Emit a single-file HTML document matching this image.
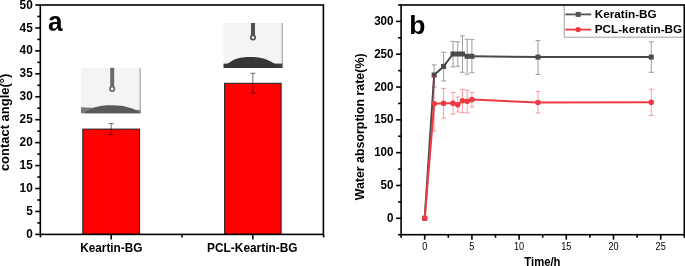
<!DOCTYPE html><html><head><meta charset="utf-8"><style>html,body{margin:0;padding:0;background:#fff;}svg{display:block;will-change:transform;}text{font-family:"Liberation Sans", sans-serif;}</style></head><body>
<svg width="685" height="266" viewBox="0 0 685 266">
<rect width="685" height="266" fill="#fff"/>
<rect x="82.8" y="129.1" width="56.8" height="105.3" fill="#ff0000" stroke="#1c2020" stroke-width="1"/>
<rect x="224.6" y="83.3" width="56.5" height="151.1" fill="#ff0000" stroke="#1c2020" stroke-width="1"/>
<g stroke="#000" stroke-opacity="0.6" stroke-width="0.9" fill="none"><line x1="111.2" y1="123.6" x2="111.2" y2="134.5"/><line x1="108.7" y1="123.6" x2="113.7" y2="123.6"/><line x1="108.7" y1="134.5" x2="113.7" y2="134.5"/></g>
<g stroke="#000" stroke-opacity="0.6" stroke-width="0.9" fill="none"><line x1="252.85" y1="73.3" x2="252.85" y2="93"/><line x1="250.35" y1="73.3" x2="255.35" y2="73.3"/><line x1="250.35" y1="93" x2="255.35" y2="93"/></g>
<rect x="81" y="67.8" width="59.6" height="45.4" fill="#f4f4f4"/><path d="M81 107.2 L140.6 110 L140.6 113.2 L81 113.2 Z" fill="#7a7a7a"/><path d="M84.5 112.6 C84.85 112.37 85.68 111.72 86.6 111.2 C87.52 110.68 88.58 110.17 90 109.5 C91.42 108.83 92.72 107.87 95.1 107.2 C97.48 106.53 101.45 105.83 104.3 105.5 C107.15 105.17 109.35 105.15 112.2 105.2 C115.05 105.25 118.33 105.32 121.4 105.8 C124.47 106.28 128.17 107.32 130.6 108.1 C133.03 108.88 134.68 109.88 136 110.5 C137.32 111.12 137.83 111.45 138.5 111.8 C139.17 112.15 139.75 112.47 140 112.6 L140 113.2 L84.5 113.2 Z" fill="#595959"/><rect x="110.2" y="67.8" width="4" height="18.8" fill="#6a6a6a"/><circle cx="112.2" cy="88.9" r="2.2" fill="#fff" stroke="#6a6a6a" stroke-width="1.7"/><line x1="140.15" y1="67.8" x2="140.15" y2="113.2" stroke="#8a8a8a" stroke-width="0.9"/>
<rect x="223.5" y="23" width="59.2" height="45" fill="#f4f4f4"/><rect x="223.5" y="63.6" width="59.2" height="4.4" fill="#3a3a3a"/><path d="M225.5 64.3 C226 64.12 227.17 63.92 228.5 63.2 C229.83 62.48 231.53 60.92 233.5 60 C235.47 59.08 237.67 58.22 240.3 57.7 C242.93 57.18 246.3 56.93 249.3 56.9 C252.3 56.87 255.67 57.13 258.3 57.5 C260.93 57.87 263.03 58.43 265.1 59.1 C267.17 59.77 269.1 60.72 270.7 61.5 C272.3 62.28 273.65 63.3 274.7 63.8 C275.75 64.3 276.62 64.38 277 64.5 L277 68 L225.5 68 Z" fill="#363636"/><rect x="251" y="23" width="4" height="12.2" fill="#505050"/><circle cx="253" cy="37.5" r="2.2" fill="#fff" stroke="#505050" stroke-width="1.7"/><line x1="282.25" y1="23" x2="282.25" y2="68" stroke="#8a8a8a" stroke-width="0.9"/>
<g stroke="#000" stroke-width="1.6" fill="none">
<rect x="40.3" y="5" width="283.1" height="229.4"/>
<line x1="35.3" y1="234.4" x2="40.3" y2="234.4"/>
<line x1="37.3" y1="222.93" x2="40.3" y2="222.93"/>
<line x1="35.3" y1="211.46" x2="40.3" y2="211.46"/>
<line x1="37.3" y1="199.99" x2="40.3" y2="199.99"/>
<line x1="35.3" y1="188.52" x2="40.3" y2="188.52"/>
<line x1="37.3" y1="177.05" x2="40.3" y2="177.05"/>
<line x1="35.3" y1="165.58" x2="40.3" y2="165.58"/>
<line x1="37.3" y1="154.11" x2="40.3" y2="154.11"/>
<line x1="35.3" y1="142.64" x2="40.3" y2="142.64"/>
<line x1="37.3" y1="131.17" x2="40.3" y2="131.17"/>
<line x1="35.3" y1="119.7" x2="40.3" y2="119.7"/>
<line x1="37.3" y1="108.23" x2="40.3" y2="108.23"/>
<line x1="35.3" y1="96.76" x2="40.3" y2="96.76"/>
<line x1="37.3" y1="85.29" x2="40.3" y2="85.29"/>
<line x1="35.3" y1="73.82" x2="40.3" y2="73.82"/>
<line x1="37.3" y1="62.35" x2="40.3" y2="62.35"/>
<line x1="35.3" y1="50.88" x2="40.3" y2="50.88"/>
<line x1="37.3" y1="39.41" x2="40.3" y2="39.41"/>
<line x1="35.3" y1="27.94" x2="40.3" y2="27.94"/>
<line x1="37.3" y1="16.47" x2="40.3" y2="16.47"/>
<line x1="35.3" y1="5" x2="40.3" y2="5"/>
<line x1="40.4" y1="234.4" x2="40.4" y2="237.4"/>
<line x1="111.2" y1="234.4" x2="111.2" y2="239.4"/>
<line x1="182" y1="234.4" x2="182" y2="237.4"/>
<line x1="252.8" y1="234.4" x2="252.8" y2="239.4"/>
<line x1="323.6" y1="234.4" x2="323.6" y2="237.4"/>
</g>
<g font-size="11.8" font-weight="bold" text-anchor="end" fill="#000">
<text transform="translate(32.7,238) scale(1,1.05)">0</text>
<text transform="translate(32.7,215.06) scale(1,1.05)">5</text>
<text transform="translate(32.7,192.12) scale(1,1.05)">10</text>
<text transform="translate(32.7,169.18) scale(1,1.05)">15</text>
<text transform="translate(32.7,146.24) scale(1,1.05)">20</text>
<text transform="translate(32.7,123.3) scale(1,1.05)">25</text>
<text transform="translate(32.7,100.36) scale(1,1.05)">30</text>
<text transform="translate(32.7,77.42) scale(1,1.05)">35</text>
<text transform="translate(32.7,54.48) scale(1,1.05)">40</text>
<text transform="translate(32.7,31.54) scale(1,1.05)">45</text>
<text transform="translate(32.7,8.6) scale(1,1.05)">50</text>
</g>
<text transform="translate(111.3,251.7) scale(1,1.07)" font-size="11.8" font-weight="bold" text-anchor="middle">Keartin-BG</text>
<text transform="translate(252.3,251.7) scale(1,1.07)" font-size="11.9" font-weight="bold" text-anchor="middle">PCL-Keartin-BG</text>
<text transform="translate(9.3,122.4) rotate(-90) scale(1.03,1)" font-size="12.6" font-weight="bold" text-anchor="middle">contact angle(°)</text>
<text transform="translate(47.9,30.9) scale(0.97,1)" font-size="27" font-weight="bold">a</text>
<g stroke="#9c9c9c" stroke-width="1.0" fill="none"><line x1="434.14" y1="64.8" x2="434.14" y2="87"/><line x1="431.74" y1="64.8" x2="436.54" y2="64.8"/><line x1="431.74" y1="87" x2="436.54" y2="87"/><line x1="443.58" y1="52.3" x2="443.58" y2="81"/><line x1="441.18" y1="52.3" x2="445.98" y2="52.3"/><line x1="441.18" y1="81" x2="445.98" y2="81"/><line x1="453.02" y1="41.4" x2="453.02" y2="67"/><line x1="450.62" y1="41.4" x2="455.42" y2="41.4"/><line x1="450.62" y1="67" x2="455.42" y2="67"/><line x1="457.74" y1="41.8" x2="457.74" y2="66.3"/><line x1="455.34" y1="41.8" x2="460.14" y2="41.8"/><line x1="455.34" y1="66.3" x2="460.14" y2="66.3"/><line x1="462.46" y1="35.9" x2="462.46" y2="72.3"/><line x1="460.06" y1="35.9" x2="464.86" y2="35.9"/><line x1="460.06" y1="72.3" x2="464.86" y2="72.3"/><line x1="467.18" y1="39.2" x2="467.18" y2="74.2"/><line x1="464.78" y1="39.2" x2="469.58" y2="39.2"/><line x1="464.78" y1="74.2" x2="469.58" y2="74.2"/><line x1="471.9" y1="39.6" x2="471.9" y2="72.7"/><line x1="469.5" y1="39.6" x2="474.3" y2="39.6"/><line x1="469.5" y1="72.7" x2="474.3" y2="72.7"/><line x1="537.98" y1="40.6" x2="537.98" y2="74.5"/><line x1="535.58" y1="40.6" x2="540.38" y2="40.6"/><line x1="535.58" y1="74.5" x2="540.38" y2="74.5"/><line x1="651.26" y1="41.8" x2="651.26" y2="72.3"/><line x1="648.86" y1="41.8" x2="653.66" y2="41.8"/><line x1="648.86" y1="72.3" x2="653.66" y2="72.3"/></g>
<polyline points="424.7,218.3 434.14,75 443.58,66.4 453.02,54 457.74,54 462.46,54 467.18,56.3 471.9,56.3 537.98,57.1 651.26,57.1" fill="none" stroke="#4a4a4a" stroke-width="2" stroke-linejoin="round"/>
<rect x="422.2" y="215.8" width="5" height="5" fill="#4a4a4a"/>
<rect x="431.64" y="72.5" width="5" height="5" fill="#4a4a4a"/>
<rect x="441.08" y="63.9" width="5" height="5" fill="#4a4a4a"/>
<rect x="450.52" y="51.5" width="5" height="5" fill="#4a4a4a"/>
<rect x="455.24" y="51.5" width="5" height="5" fill="#4a4a4a"/>
<rect x="459.96" y="51.5" width="5" height="5" fill="#4a4a4a"/>
<rect x="464.68" y="53.8" width="5" height="5" fill="#4a4a4a"/>
<rect x="469.4" y="53.8" width="5" height="5" fill="#4a4a4a"/>
<rect x="535.48" y="54.6" width="5" height="5" fill="#4a4a4a"/>
<rect x="648.76" y="54.6" width="5" height="5" fill="#4a4a4a"/>
<g stroke="#ea2c34" stroke-opacity="0.45" stroke-width="1.0" fill="none"><line x1="434.14" y1="76.5" x2="434.14" y2="131.1"/><line x1="431.74" y1="76.5" x2="436.54" y2="76.5"/><line x1="431.74" y1="131.1" x2="436.54" y2="131.1"/><line x1="443.58" y1="88.4" x2="443.58" y2="118.2"/><line x1="441.18" y1="88.4" x2="445.98" y2="88.4"/><line x1="441.18" y1="118.2" x2="445.98" y2="118.2"/><line x1="453.02" y1="92.4" x2="453.02" y2="114.1"/><line x1="450.62" y1="92.4" x2="455.42" y2="92.4"/><line x1="450.62" y1="114.1" x2="455.42" y2="114.1"/><line x1="457.74" y1="97" x2="457.74" y2="112"/><line x1="455.34" y1="97" x2="460.14" y2="97"/><line x1="455.34" y1="112" x2="460.14" y2="112"/><line x1="462.46" y1="89.3" x2="462.46" y2="112.6"/><line x1="460.06" y1="89.3" x2="464.86" y2="89.3"/><line x1="460.06" y1="112.6" x2="464.86" y2="112.6"/><line x1="467.18" y1="90.3" x2="467.18" y2="113"/><line x1="464.78" y1="90.3" x2="469.58" y2="90.3"/><line x1="464.78" y1="113" x2="469.58" y2="113"/><line x1="471.9" y1="92.4" x2="471.9" y2="106.9"/><line x1="469.5" y1="92.4" x2="474.3" y2="92.4"/><line x1="469.5" y1="106.9" x2="474.3" y2="106.9"/><line x1="537.98" y1="91.6" x2="537.98" y2="113"/><line x1="535.58" y1="91.6" x2="540.38" y2="91.6"/><line x1="535.58" y1="113" x2="540.38" y2="113"/><line x1="651.26" y1="89.2" x2="651.26" y2="115.5"/><line x1="648.86" y1="89.2" x2="653.66" y2="89.2"/><line x1="648.86" y1="115.5" x2="653.66" y2="115.5"/></g>
<polyline points="424.7,218.3 434.14,103.8 443.58,103.3 453.02,103.3 457.74,104.8 462.46,100.7 467.18,101.3 471.9,99.6 537.98,102.5 651.26,102.3" fill="none" stroke="#ee3a42" stroke-width="2" stroke-linejoin="round"/>
<circle cx="424.7" cy="218.3" r="2.8" fill="#ee3a42"/>
<circle cx="434.14" cy="103.8" r="2.8" fill="#ee3a42"/>
<circle cx="443.58" cy="103.3" r="2.8" fill="#ee3a42"/>
<circle cx="453.02" cy="103.3" r="2.8" fill="#ee3a42"/>
<circle cx="457.74" cy="104.8" r="2.8" fill="#ee3a42"/>
<circle cx="462.46" cy="100.7" r="2.8" fill="#ee3a42"/>
<circle cx="467.18" cy="101.3" r="2.8" fill="#ee3a42"/>
<circle cx="471.9" cy="99.6" r="2.8" fill="#ee3a42"/>
<circle cx="537.98" cy="102.5" r="2.8" fill="#ee3a42"/>
<circle cx="651.26" cy="102.3" r="2.8" fill="#ee3a42"/>
<path d="M564.2 5 V37.2 H684" fill="none" stroke="#a0a0a0" stroke-width="1"/>
<line x1="565.2" y1="14.4" x2="591.3" y2="14.4" stroke="#555" stroke-width="1.8"/>
<rect x="575.7" y="11.9" width="5" height="5" fill="#555"/>
<line x1="565.2" y1="29.6" x2="591.3" y2="29.6" stroke="#ee3a42" stroke-width="1.8"/>
<circle cx="578.1" cy="29.6" r="2.7" fill="#ee3a42"/>
<text x="594.7" y="17.8" font-size="11.75" font-weight="bold">Keratin-BG</text>
<text x="594.7" y="33.1" font-size="11.75" font-weight="bold">PCL-keratin-BG</text>
<g stroke="#000" stroke-width="1.6" fill="none">
<rect x="401.1" y="5" width="283.2" height="229.7"/>
<line x1="398.1" y1="234.7" x2="401.1" y2="234.7"/>
<line x1="396.1" y1="218.29" x2="401.1" y2="218.29"/>
<line x1="398.1" y1="201.89" x2="401.1" y2="201.89"/>
<line x1="396.1" y1="185.48" x2="401.1" y2="185.48"/>
<line x1="398.1" y1="169.07" x2="401.1" y2="169.07"/>
<line x1="396.1" y1="152.66" x2="401.1" y2="152.66"/>
<line x1="398.1" y1="136.26" x2="401.1" y2="136.26"/>
<line x1="396.1" y1="119.85" x2="401.1" y2="119.85"/>
<line x1="398.1" y1="103.44" x2="401.1" y2="103.44"/>
<line x1="396.1" y1="87.04" x2="401.1" y2="87.04"/>
<line x1="398.1" y1="70.63" x2="401.1" y2="70.63"/>
<line x1="396.1" y1="54.22" x2="401.1" y2="54.22"/>
<line x1="398.1" y1="37.81" x2="401.1" y2="37.81"/>
<line x1="396.1" y1="21.41" x2="401.1" y2="21.41"/>
<line x1="398.1" y1="5" x2="401.1" y2="5"/>
<line x1="401.1" y1="234.7" x2="401.1" y2="237.7"/>
<line x1="424.7" y1="234.7" x2="424.7" y2="239.7"/>
<line x1="448.3" y1="234.7" x2="448.3" y2="237.7"/>
<line x1="471.9" y1="234.7" x2="471.9" y2="239.7"/>
<line x1="495.5" y1="234.7" x2="495.5" y2="237.7"/>
<line x1="519.1" y1="234.7" x2="519.1" y2="239.7"/>
<line x1="542.7" y1="234.7" x2="542.7" y2="237.7"/>
<line x1="566.3" y1="234.7" x2="566.3" y2="239.7"/>
<line x1="589.9" y1="234.7" x2="589.9" y2="237.7"/>
<line x1="613.5" y1="234.7" x2="613.5" y2="239.7"/>
<line x1="637.1" y1="234.7" x2="637.1" y2="237.7"/>
<line x1="660.7" y1="234.7" x2="660.7" y2="239.7"/>
<line x1="684.3" y1="234.7" x2="684.3" y2="237.7"/>
</g>
<g font-size="11.6" font-weight="bold" text-anchor="end" fill="#000">
<text transform="translate(393.5,221.89) scale(1,1.06)">0</text>
<text transform="translate(393.5,189.08) scale(1,1.06)">50</text>
<text transform="translate(393.5,156.26) scale(1,1.06)">100</text>
<text transform="translate(393.5,123.45) scale(1,1.06)">150</text>
<text transform="translate(393.5,90.64) scale(1,1.06)">200</text>
<text transform="translate(393.5,57.82) scale(1,1.06)">250</text>
<text transform="translate(393.5,25.01) scale(1,1.06)">300</text>
</g>
<g font-size="9.2" text-anchor="middle" fill="#000">
<text transform="translate(424.7,249.8) scale(1,1.13)">0</text>
<text transform="translate(471.9,249.8) scale(1,1.13)">5</text>
<text transform="translate(519.1,249.8) scale(1,1.13)">10</text>
<text transform="translate(566.3,249.8) scale(1,1.13)">15</text>
<text transform="translate(613.5,249.8) scale(1,1.13)">20</text>
<text transform="translate(660.7,249.8) scale(1,1.13)">25</text>
</g>
<text transform="translate(542.4,265.5) scale(1,1.06)" font-size="11.3" font-weight="bold" text-anchor="middle">Time/h</text>
<text transform="translate(364.0,126.9) rotate(-90)" font-size="12.4" font-weight="bold" text-anchor="middle">Water absorption rate(%)</text>
<text x="409.3" y="33.9" font-size="26.5" font-weight="bold">b</text>
</svg></body></html>
